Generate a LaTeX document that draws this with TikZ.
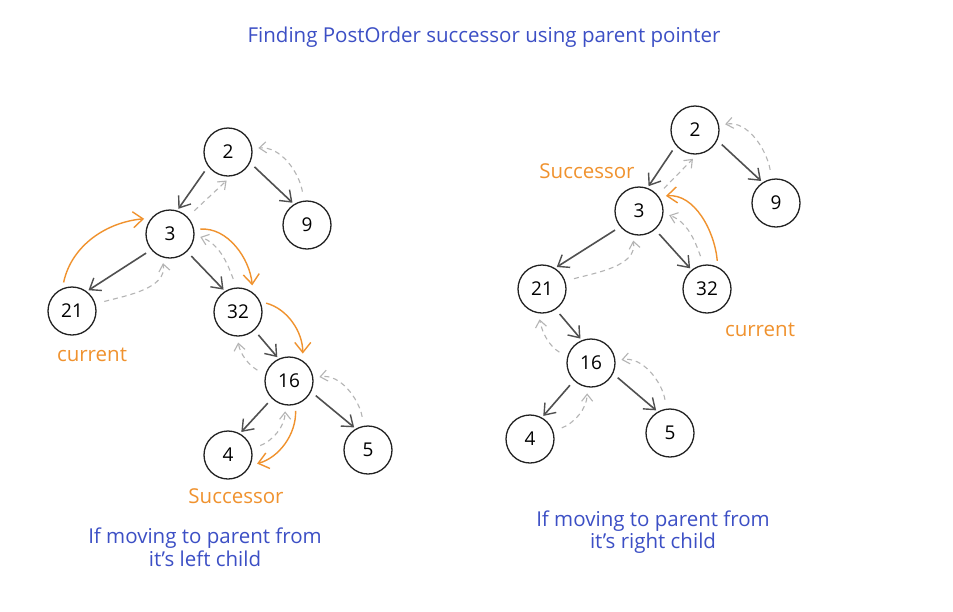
\documentclass[tikz,border=0pt]{standalone}
\usepackage{fontspec}
\setmainfont{Open Sans}
\usetikzlibrary{arrows.meta}
\definecolor{edgec}{HTML}{505050}
\definecolor{circc}{HTML}{222222}
\definecolor{dashc}{HTML}{B4B4B4}
\definecolor{orangec}{HTML}{F0922E}
\definecolor{bluec}{HTML}{3C4FC5}
\begin{document}
\begin{tikzpicture}[x=1pt,y=1pt,
  tn/.style={circle,draw=circc,line width=1.3pt,minimum size=48pt,inner sep=0pt,font=\fontsize{19}{21}\selectfont},
  edge/.style={draw=edgec,line width=1.6pt,-{Straight Barb[length=10pt,width=15pt,line width=1.4pt]},shorten <=6pt,shorten >=2pt},
  back/.style={draw=dashc,line width=1.1pt,dash pattern=on 5pt off 4pt,-{Straight Barb[length=7pt,width=11pt,line width=1.1pt]},shorten <=9pt,shorten >=6pt},
  orng/.style={draw=orangec,line width=1.4pt,-{Straight Barb[length=10pt,width=16pt,line width=1.4pt]},shorten <=6pt,shorten >=7pt},
  olbl/.style={text=orangec,font=\fontsize{20.5}{22}\selectfont},
  blbl/.style={text=bluec,font=\fontsize{20.5}{22.5}\selectfont,align=center},
]
\useasboundingbox[fill=white] (0,0) rectangle (953,-611);

% left tree
\node[tn] (L2) at (228,-152) {2};
\node[tn] (L9) at (307,-225) {9};
\node[tn] (L3) at (170,-234) {3};
\node[tn] (L21) at (72,-311) {21};
\node[tn] (L32) at (238,-312) {32};
\node[tn] (L16) at (289,-381) {16};
\node[tn] (L4) at (228,-455) {4};
\node[tn] (L5) at (368,-450) {5};

\draw[edge] (L2.216) -- (L3.73);
\draw[edge] (L2.-26) -- (L9.122);
\draw[edge] (L3.220) -- (L21.53);
\draw[edge] (L3.-46) -- (L32.122);
\draw[edge] (L32.-48) -- (L16.115);
\draw[edge] (L16.226) -- (L4.61);
\draw[edge] (L16.-26) -- (L5.120);

\draw[back] (L3.44) -- (L2.-83);
\draw[back] (L9.97) to[out=100,in=5] (L2.8);
\draw[back] (L21.17) to[out=15,in=-80] (L3.251);
\draw[back] (L32.94) to[out=110,in=-20] (L3.-2);
\draw[back] (L16.165) to[out=150,in=-80] (L32.268);
\draw[back] (L5.100) to[out=100,in=10] (L16.7);
\draw[back] (L4.15) to[out=20,in=-90] (L16.261);

\draw[orng] (L21.113) to[out=78,in=185] (L3.140);
\draw[orng] (L3.10) to[out=5,in=95] (L32.53);
\draw[orng] (L32.25) to[out=-15,in=90] (L16.56);
\draw[orng] (L16.-75) to[out=-88,in=15] (L4.-25);

% right tree
\node[tn] (R2) at (695,-130) {2};
\node[tn] (R9) at (776,-203) {9};
\node[tn] (R3) at (639,-211) {3};
\node[tn] (R21) at (542,-289) {21};
\node[tn] (R32) at (707,-289) {32};
\node[tn] (R16) at (591,-363) {16};
\node[tn] (R4) at (530,-439) {4};
\node[tn] (R5) at (670,-433) {5};

\draw[edge] (R2.219) -- (R3.70);
\draw[edge] (R2.-25) -- (R9.123);
\draw[edge] (R3.220) -- (R21.58);
\draw[edge] (R3.-49) -- (R32.129);
\draw[edge] (R21.-56) -- (R16.112);
\draw[edge] (R16.226) -- (R4.61);
\draw[edge] (R16.-26) -- (R5.120);

\draw[back] (R3.41) -- (R2.-85);
\draw[back] (R9.100) to[out=100,in=10] (R2.11);
\draw[back] (R32.98) to[out=110,in=-20] (R3.-5);
\draw[back] (R21.19) to[out=15,in=-80] (R3.254);
\draw[back] (R16.165) to[out=150,in=-80] (R21.262);
\draw[back] (R5.98) to[out=100,in=10] (R16.5);
\draw[back] (R4.19) to[out=20,in=-90] (R16.261);

\draw[orng] (R32.64) to[out=95,in=5] (R3.36);

% labels
\node[blbl] (title) at (484,-37) {Finding PostOrder successor using parent pointer};
\node[olbl] (curL) at (92,-355) {current};
\node[olbl] (sucL) at (236,-496) {Successor};
\node[olbl] (sucR) at (587,-171) {Successor};
\node[olbl] (curR) at (760,-330) {current};
\node[blbl] (capL) at (205,-547) {If moving to parent from\\it's left child};
\node[blbl] (capR) at (653,-532) {If moving to parent from\\it's right child};
\end{tikzpicture}
\end{document}
